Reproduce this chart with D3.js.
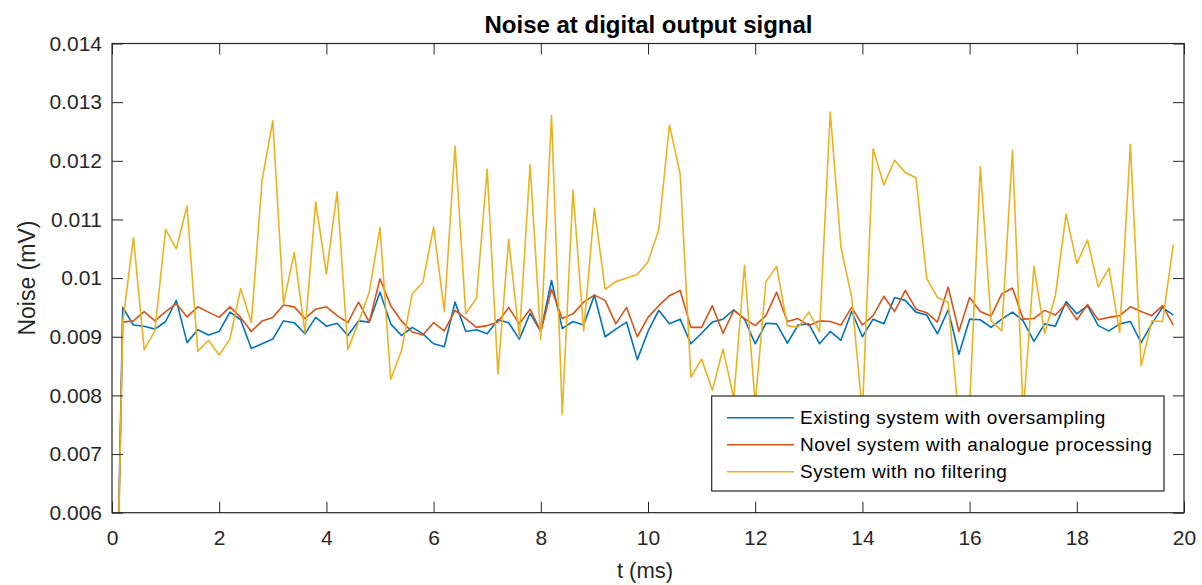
<!DOCTYPE html>
<html>
<head>
<meta charset="utf-8">
<script src="https://cdn.jsdelivr.net/npm/d3@7"></script>
<style>
  html, body { margin: 0; padding: 0; background: #ffffff; }
  svg { display: block; }
  text { font-family: "Liberation Sans", Arial, Helvetica, sans-serif; }
</style>
</head>
<body>
<svg id="chart" width="1202" height="585"></svg>
<script>
// ---------- data (noise in units of 0.001 mV, sampled every 0.2 ms) ----------
const timeStep = 0.2;
const existingOversampling = [
  0, 9.5, 9.2, 9.18, 9.13, 9.26, 9.62, 8.9, 9.12, 9.03,
  9.09, 9.42, 9.29, 8.8, 8.88, 8.96, 9.27, 9.24, 9.05, 9.33,
  9.18, 9.23, 9.02, 9.27, 9.25, 9.76, 9.22, 9.02, 9.16, 9.05,
  8.88, 8.83, 9.59, 9.09, 9.12, 9.05, 9.29, 9.24, 8.96, 9.4,
  9.09, 9.96, 9.14, 9.26, 9.2, 9.71, 9.0, 9.13, 9.25, 8.61,
  9.09, 9.45, 9.22, 9.3, 8.88, 9.06, 9.25, 9.3, 9.46, 9.3,
  8.88, 9.23, 9.22, 8.89, 9.2, 9.22, 8.88, 9.09, 8.94, 9.43,
  9.0, 9.3, 9.22, 9.67, 9.62, 9.42, 9.37, 9.05, 9.46, 8.7,
  9.3, 9.29, 9.16, 9.3, 9.42, 9.27, 8.92, 9.22, 9.18, 9.6,
  9.39, 9.53, 9.19, 9.1, 9.22, 9.26, 8.9, 9.22, 9.5, 9.37
];
const novelAnalogue = [
  0, 9.25, 9.27, 9.43, 9.27, 9.43, 9.56, 9.34, 9.51, 9.42,
  9.33, 9.51, 9.33, 9.09, 9.27, 9.33, 9.54, 9.51, 9.31, 9.47,
  9.51, 9.36, 9.24, 9.59, 9.25, 9.99, 9.53, 9.27, 9.08, 9.03,
  9.24, 9.1, 9.45, 9.31, 9.16, 9.19, 9.25, 9.5, 9.22, 9.47,
  9.09, 9.81, 9.31, 9.39, 9.59, 9.71, 9.62, 9.22, 9.5, 9.0,
  9.33, 9.53, 9.7, 9.79, 9.16, 9.16, 9.53, 9.06, 9.45, 9.31,
  9.19, 9.36, 9.76, 9.26, 9.31, 9.19, 9.27, 9.26, 9.2, 9.5,
  9.2, 9.36, 9.69, 9.43, 9.79, 9.47, 9.41, 9.25, 9.85, 9.09,
  9.67, 9.43, 9.35, 9.73, 9.83, 9.3, 9.31, 9.45, 9.37, 9.56,
  9.29, 9.55, 9.29, 9.33, 9.36, 9.51, 9.43, 9.36, 9.53, 9.2
];
const noFiltering = [
  0, 9.24, 10.69, 8.78, 9.1, 10.83, 10.5, 11.23, 8.75, 8.94,
  8.69, 8.96, 9.82, 9.24, 11.67, 12.68, 9.56, 10.44, 9.07, 11.3,
  10.07, 11.47, 8.78, 9.25, 9.76, 10.86, 8.27, 8.76, 9.73, 9.93,
  10.87, 9.43, 12.25, 9.39, 9.66, 11.86, 8.37, 10.66, 8.99, 11.93,
  8.96, 12.77, 7.68, 11.5, 9.1, 11.19, 9.81, 9.94, 10.0, 10.06,
  10.28, 10.82, 12.61, 11.78, 8.31, 8.62, 8.09, 8.79, 7.95, 10.22,
  7.85, 9.94, 10.2, 9.19, 9.16, 9.42, 9.09, 12.83, 10.53, 9.67,
  7.7, 12.2, 11.59, 12.01, 11.8, 11.71, 9.99, 9.67, 9.59, 7.6,
  7.8, 11.9, 9.27, 9.1, 12.18, 7.7, 10.2, 9.06, 9.7, 11.09,
  10.25, 10.65, 9.85, 10.17, 9.07, 12.28, 8.5, 9.27, 9.26, 10.57
];
const seriesNames = [
  "Existing system with oversampling",
  "Novel system with analogue processing",
  "System with no filtering"
];
const seriesColors = ["#0072BD", "#D95319", "#EDB120"];
const xTickValues = [0, 2, 4, 6, 8, 10, 12, 14, 16, 18, 20];
const yTickValues = [0.006, 0.007, 0.008, 0.009, 0.010, 0.011, 0.012, 0.013, 0.014];
const yTickLabels = ["0.006", "0.007", "0.008", "0.009", "0.01", "0.011", "0.012", "0.013", "0.014"];
const titleText = "Noise at digital output signal";
const xLabelText = "t (ms)";
const yLabelText = "Noise (mV)";

// ---------- layout ----------
const plot = { left: 112, right: 1184, top: 43.5, bottom: 512.7 };
const axisColor = "#262626";
const tickLen = 11;

const svg = d3.select("#chart");
svg.append("rect").attr("width", 1202).attr("height", 585).attr("fill", "#ffffff");

const x = d3.scaleLinear().domain([0, 20]).range([plot.left, plot.right]);
const y = d3.scaleLinear().domain([0.006, 0.014]).range([plot.bottom, plot.top]);

// clip
svg.append("defs").append("clipPath").attr("id", "plotClip")
  .append("rect")
  .attr("x", plot.left).attr("y", plot.top)
  .attr("width", plot.right - plot.left).attr("height", plot.bottom - plot.top);

// series
const allSeries = [existingOversampling, novelAnalogue, noFiltering];
const line = d3.line()
  .x((d, i) => x(i * timeStep))
  .y(d => y(d / 1000));

const linesG = svg.append("g").attr("clip-path", "url(#plotClip)");
allSeries.forEach((vals, si) => {
  linesG.append("path")
    .datum(vals)
    .attr("fill", "none")
    .attr("stroke", seriesColors[si])
    .attr("stroke-width", 1.6)
    .attr("stroke-linejoin", "round")
    .attr("d", line);
});

// axes
function styleAxis(g) {
  g.select(".domain").remove();
  g.selectAll(".tick line").attr("stroke", axisColor).attr("stroke-width", 1);
  g.selectAll(".tick text").attr("fill", axisColor).style("font-size", "21px")
    .style("font-family", "'Liberation Sans', Arial, Helvetica, sans-serif");
}

const xAxisBottom = d3.axisBottom(x).tickValues(xTickValues).tickFormat(d3.format("d"))
  .tickSizeInner(-tickLen).tickSizeOuter(0).tickPadding(17);
svg.append("g").attr("transform", `translate(0,${plot.bottom})`).call(xAxisBottom).call(styleAxis);

const xAxisTop = d3.axisTop(x).tickValues(xTickValues).tickFormat("")
  .tickSizeInner(-tickLen).tickSizeOuter(0);
svg.append("g").attr("transform", `translate(0,${plot.top})`).call(xAxisTop).call(styleAxis);

const yAxisLeft = d3.axisLeft(y).tickValues(yTickValues)
  .tickFormat((d, i) => yTickLabels[i])
  .tickSizeInner(-tickLen).tickSizeOuter(0).tickPadding(10);
svg.append("g").attr("transform", `translate(${plot.left},0)`).call(yAxisLeft).call(styleAxis);

const yAxisRight = d3.axisRight(y).tickValues(yTickValues).tickFormat("")
  .tickSizeInner(-tickLen).tickSizeOuter(0);
svg.append("g").attr("transform", `translate(${plot.right},0)`).call(yAxisRight).call(styleAxis);

// box
svg.append("rect")
  .attr("x", plot.left).attr("y", plot.top)
  .attr("width", plot.right - plot.left).attr("height", plot.bottom - plot.top)
  .attr("fill", "none").attr("stroke", axisColor).attr("stroke-width", 1.2);

// title & labels
svg.append("text")
  .attr("x", 648.5).attr("y", 33)
  .attr("text-anchor", "middle")
  .style("font-size", "24px").style("font-weight", "bold")
  .attr("fill", "#000")
  .text(titleText);

svg.append("text")
  .attr("x", 645).attr("y", 578)
  .attr("text-anchor", "middle")
  .style("font-size", "22px")
  .attr("fill", axisColor)
  .text(xLabelText);

svg.append("text")
  .attr("transform", `translate(35,${(plot.top + plot.bottom) / 2}) rotate(-90)`)
  .attr("text-anchor", "middle")
  .style("font-size", "23px")
  .attr("fill", axisColor)
  .text(yLabelText);

// legend
const legend = { x: 711.7, y: 396, w: 452.3, h: 95, rowY0: 417.7, rowGap: 27 };
const legG = svg.append("g");
legG.append("rect")
  .attr("x", legend.x).attr("y", legend.y)
  .attr("width", legend.w).attr("height", legend.h)
  .attr("fill", "#ffffff").attr("stroke", axisColor).attr("stroke-width", 1.2);
seriesNames.forEach((name, i) => {
  const ry = legend.rowY0 + i * legend.rowGap;
  legG.append("line")
    .attr("x1", 727).attr("x2", 794).attr("y1", ry).attr("y2", ry)
    .attr("stroke", seriesColors[i]).attr("stroke-width", 1.5);
  legG.append("text")
    .attr("x", 800).attr("y", ry).attr("dy", "0.35em")
    .style("font-size", "19px").style("letter-spacing", "0.5px")
    .attr("fill", "#000")
    .text(name);
});
</script>
</body>
</html>
